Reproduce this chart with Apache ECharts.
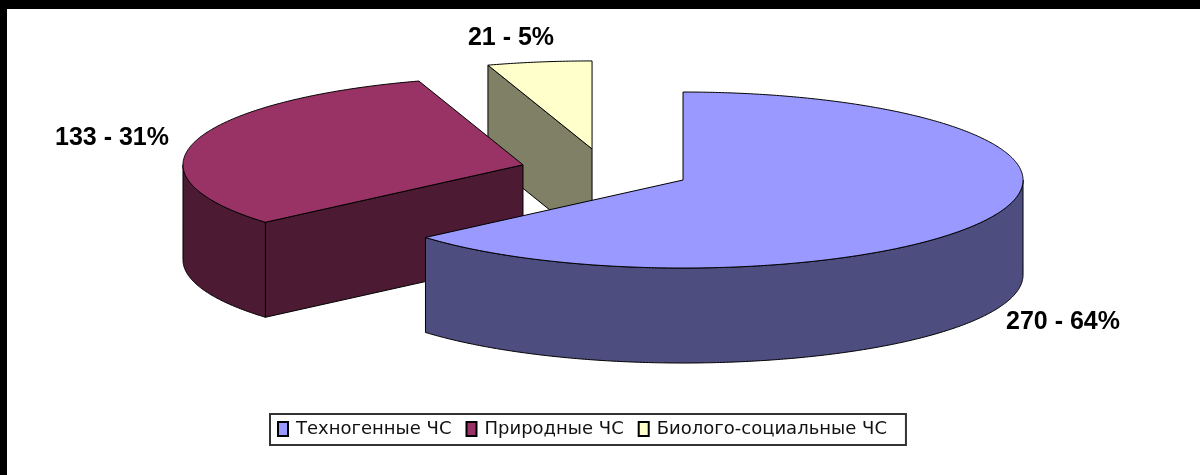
<!DOCTYPE html>
<html>
<head>
<meta charset="utf-8">
<style>
  html, body { margin: 0; padding: 0; background: #fff; }
  #chart { width: 1200px; height: 475px; }
</style>
<script src="https://cdn.jsdelivr.net/npm/echarts@6/dist/echarts.min.js"></script>
</head>
<body>
<div id="chart"></div>
<script>
const categories = ['Техногенные ЧС', 'Природные ЧС', 'Биолого-социальные ЧС'];
const values = [270, 133, 21];

// look of the old 3D pie
const topColors = ['#9999ff', '#993366', '#ffffcc'];
const sideColors = ['#4d4d80', '#4d1a33', '#808066'];
const labelPositions = [[1063, 322], [112, 138], [511, 38]];

const baseX = 605.3, baseY = 170.8;
const radiusX = 340, radiusY = 88;
const explode = 85.5;
const depth = 95;
const labelFont = 'bold 25px "Liberation Sans", sans-serif';

const total = values.reduce((a, b) => a + b, 0);
const startAngles = [];
values.reduce((acc, v, i) => { startAngles[i] = acc; return acc + v / total * 360; }, 0);

const rad = d => d * Math.PI / 180;

// deg is clockwise from the top of the pie
function rimPoint(cx, cy, deg, dy) {
    return [cx + radiusX * Math.sin(rad(deg)), cy - radiusY * Math.cos(rad(deg)) + (dy || 0)];
}

function arcPoints(cx, cy, from, to, dy) {
    const pts = [];
    const steps = Math.max(2, Math.ceil((to - from) * 2));
    for (let i = 0; i <= steps; i++) {
        pts.push(rimPoint(cx, cy, from + (to - from) * i / steps, dy));
    }
    return pts;
}

function polygon(points, fill, z2) {
    return {
        type: 'polygon',
        z2: z2,
        shape: { points: points },
        style: { fill: fill, stroke: '#000', lineWidth: 1 }
    };
}

function renderSlice(index, params, api) {
    const value = api.value(0);
    const from = startAngles[index];
    const to = from + value / total * 360;
    const mid = rad((from + to) / 2);
    const cx = baseX + explode * Math.sin(mid);
    const cy = baseY - explode * radiusY / radiusX * Math.cos(mid);
    const children = [];
    const side = sideColors[index];

    // cut faces that look towards the viewer
    [[from, Math.sin(rad(from)) < -1e-6], [to, Math.sin(rad(to)) > 1e-6]].forEach(([deg, visible]) => {
        if (!visible) return;
        const p = rimPoint(cx, cy, deg);
        children.push(polygon([[cx, cy], p, [p[0], p[1] + depth], [cx, cy + depth]], side, 1));
    });

    // outer wall, only the front half of the ellipse shows
    const a = Math.max(from, 90), b = Math.min(to, 270);
    if (b > a) {
        children.push(polygon(arcPoints(cx, cy, a, b).concat(arcPoints(cx, cy, a, b, depth).reverse()), side, 2));
    }

    children.push(polygon([[cx, cy]].concat(arcPoints(cx, cy, from, to)), topColors[index], 3));

    const pos = labelPositions[index];
    children.push({
        type: 'text',
        z2: 4,
        x: pos[0],
        y: pos[1],
        style: {
            text: value + ' - ' + Math.round(value / total * 100) + '%',
            font: labelFont,
            fill: '#000',
            align: 'center',
            verticalAlign: 'middle'
        }
    });
    return { type: 'group', children: children };
}

const chart = echarts.init(document.getElementById('chart'));
chart.setOption({
    animation: false,
    backgroundColor: '#fff',
    legend: {
        data: categories,
        left: 270,
        top: 414,
        padding: [6, 19, 7, 7],
        itemGap: 14,
        itemWidth: 10,
        itemHeight: 14,
        icon: 'rect',
        borderColor: '#333',
        borderWidth: 2,
        selectedMode: false,
        textStyle: { fontFamily: 'DejaVu Sans', fontSize: 18, color: '#111', padding: [0, 0, 0, 3] }
    },
    graphic: [
        { type: 'rect', left: 0, top: 0, shape: { width: 1200, height: 9 }, style: { fill: '#000' } },
        { type: 'rect', left: 0, top: 0, shape: { width: 7, height: 475 }, style: { fill: '#000' } }
    ],
    series: categories.map((name, i) => ({
        type: 'custom',
        name: name,
        coordinateSystem: 'none',
        z: categories.length - i,
        itemStyle: { color: topColors[i], borderColor: '#000', borderWidth: 1 },
        data: [[values[i]]],
        renderItem: (params, api) => renderSlice(i, params, api)
    }))
});
window.addEventListener('resize', () => chart.resize());
</script>
</body>
</html>
